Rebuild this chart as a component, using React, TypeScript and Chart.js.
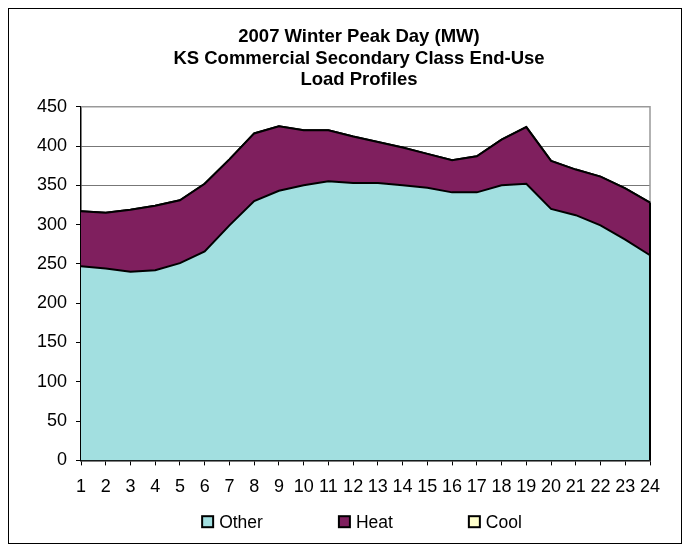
import React, { useEffect, useRef } from "react";
import { Chart, registerables } from "chart.js";

Chart.register(...registerables);

const hours = ["1", "2", "3", "4", "5", "6", "7", "8", "9", "10", "11", "12", "13", "14", "15", "16", "17", "18", "19", "20", "21", "22", "23", "24"];
const otherLoad = [247, 244, 240, 242, 251, 266, 299, 330, 343, 350, 355, 353, 353, 350, 347, 341, 341, 350, 352, 320, 312, 299, 281, 261];
const heatLoad = [70, 71, 79, 82, 80, 86, 84, 86, 82, 70, 65, 59, 52, 48, 43, 41, 46, 58, 72, 61, 58, 62, 65, 67];
const coolLoad = [0, 0, 0, 0, 0, 0, 0, 0, 0, 0, 0, 0, 0, 0, 0, 0, 0, 0, 0, 0, 0, 0, 0, 0];
const titleLines = ["2007 Winter Peak Day (MW)", "KS Commercial Secondary Class End-Use", "Load Profiles"];

const FONT = "'Liberation Sans', Arial, sans-serif";

const framePlugin = {
  id: "frame",
  beforeDatasetsDraw(chart: any) {
    const { ctx, chartArea } = chart;
    ctx.save();
    ctx.strokeStyle = "#999999";
    ctx.lineWidth = 1.5;
    ctx.beginPath();
    ctx.moveTo(chartArea.left, chartArea.top);
    ctx.lineTo(chartArea.right, chartArea.top);
    ctx.lineTo(chartArea.right, chartArea.bottom);
    ctx.stroke();
    ctx.restore();
  },
  afterDatasetsDraw(chart: any) {
    const { ctx, chartArea, scales } = chart;
    const last = hours.length - 1;
    const top = scales.y.getPixelForValue(otherLoad[last] + heatLoad[last] + coolLoad[last]);
    ctx.save();
    ctx.strokeStyle = "#000000";
    ctx.lineWidth = 2;
    ctx.beginPath();
    ctx.moveTo(chartArea.right, top);
    ctx.lineTo(chartArea.right, chartArea.bottom);
    ctx.stroke();
    ctx.restore();
  },
};

const titlePlugin = {
  id: "customTitle",
  afterDraw(chart: any) {
    const { ctx } = chart;
    ctx.save();
    ctx.font = `bold 18.5px ${FONT}`;
    ctx.fillStyle = "#000000";
    ctx.textAlign = "center";
    ctx.textBaseline = "middle";
    const cx = chart.width / 2 + 14;
    titleLines.forEach((line, i) => {
      ctx.fillText(line, cx, 28 + i * 21.7);
    });
    ctx.restore();
  },
};

const legendPlugin = {
  id: "customLegend",
  afterDraw(chart: any) {
    const { ctx, chartArea } = chart;
    const items = chart.data.datasets.map((d: any) => ({ text: d.label, color: d.backgroundColor }));
    const box = 11;
    const gap = 6;
    const spacing = 76;
    ctx.save();
    ctx.font = `17.5px ${FONT}`;
    const widths = items.map((it: any) => ctx.measureText(it.text).width);
    let total = 0;
    widths.forEach((w: number, i: number) => {
      total += box + gap + w + (i < widths.length - 1 ? spacing : 0);
    });
    let x = (chartArea.left + chartArea.right) / 2 - total / 2 - 3.5;
    const cy = chart.height - 21.3;
    items.forEach((it: any, i: number) => {
      ctx.fillStyle = it.color;
      ctx.fillRect(x, cy - box / 2, box, box);
      ctx.strokeStyle = "#000000";
      ctx.lineWidth = 2;
      ctx.strokeRect(x, cy - box / 2, box, box);
      ctx.fillStyle = "#000000";
      ctx.textBaseline = "middle";
      ctx.textAlign = "left";
      ctx.fillText(it.text, x + box + gap, cy + 1);
      x += box + gap + widths[i] + spacing;
    });
    ctx.restore();
  },
};

export default function App() {
  const ref = useRef<HTMLCanvasElement | null>(null);

  useEffect(() => {
    if (!ref.current) return;
    const chart = new Chart(ref.current, {
      type: "line",
      data: {
        labels: hours,
        datasets: [
          {
            label: "Other",
            data: otherLoad,
            backgroundColor: "#A2DFE0",
            borderColor: "#000000",
            borderWidth: 2,
            pointRadius: 0,
            fill: "origin",
            tension: 0,
          },
          {
            label: "Heat",
            data: heatLoad,
            backgroundColor: "#7F1F5E",
            borderColor: "#000000",
            borderWidth: 2,
            pointRadius: 0,
            fill: "-1",
            tension: 0,
          },
          {
            label: "Cool",
            data: coolLoad,
            backgroundColor: "#FFFFCC",
            borderColor: "#000000",
            borderWidth: 2,
            pointRadius: 0,
            fill: "-1",
            tension: 0,
          },
        ],
      },
      options: {
        animation: false,
        responsive: false,
        maintainAspectRatio: false,
        layout: { padding: { left: 0, right: 31, top: 97.7, bottom: 34 } },
        plugins: {
          title: { display: false },
          legend: { display: false },
          tooltip: { enabled: false },
        },
        scales: {
          x: {
            stacked: true,
            grid: {
              display: true,
              drawOnChartArea: false,
              drawTicks: true,
              tickLength: 5,
              tickColor: "#000000",
              offset: false,
            },
            border: { color: "#000000", width: 1.5 },
            ticks: {
              color: "#000000",
              font: { family: FONT, size: 18 },
              padding: 11,
              autoSkip: false,
              maxRotation: 0,
            },
          },
          y: {
            stacked: true,
            min: 0,
            max: 450,
            grid: {
              color: "#777777",
              lineWidth: 1,
              drawTicks: true,
              tickLength: 5,
              tickColor: "#000000",
            },
            border: { color: "#000000", width: 1.5 },
            ticks: {
              stepSize: 50,
              color: "#000000",
              font: { family: FONT, size: 18 },
              padding: 9,
            },
            afterFit(scale: any) {
              scale.width = 72;
            },
          },
        },
      },
      plugins: [framePlugin, titlePlugin, legendPlugin],
    });
    return () => chart.destroy();
  }, []);

  return (
    <div style={{ width: 672, height: 534, border: "1px solid #000000", background: "#ffffff" }}>
      <canvas ref={ref} width={672} height={534} style={{ display: "block" }} />
    </div>
  );
}
